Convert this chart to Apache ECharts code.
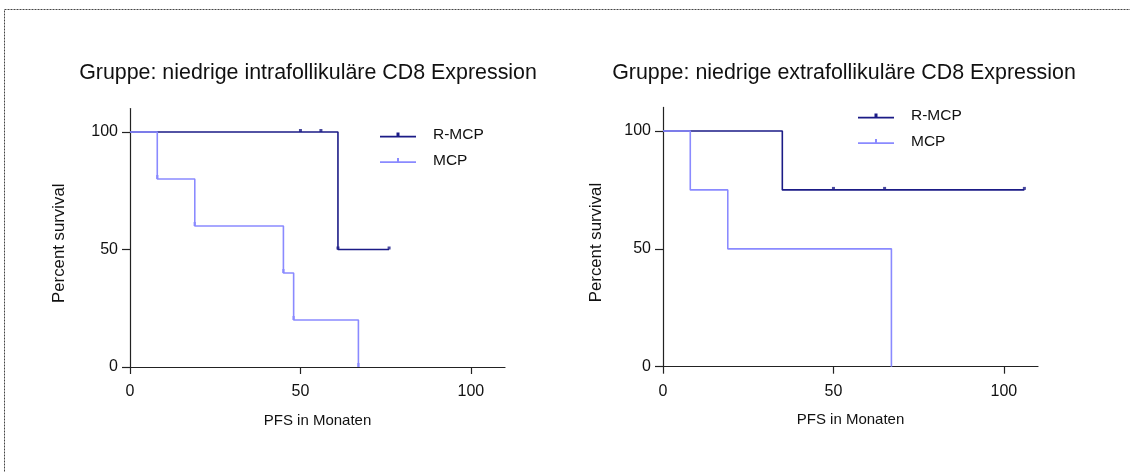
<!DOCTYPE html>
<html>
<head>
<meta charset="utf-8">
<script src="https://cdn.jsdelivr.net/npm/echarts@6/dist/echarts.min.js"></script>
<style>
  html, body { margin: 0; padding: 0; background: #fff; }
  #chart { width: 1130px; height: 472px; }
</style>
</head>
<body>
<div id="chart"></div>
<script>
// Kaplan-Meier step curves: [months, percent survival]
const titles = [
  'Gruppe: niedrige intrafollikuläre CD8 Expression',
  'Gruppe: niedrige extrafollikuläre CD8 Expression'
];
const seriesNames = ['R-MCP', 'MCP'];
const xTicks = [0, 50, 100];
const yTicks = [0, 50, 100];
const xAxisName = 'PFS in Monaten';
const yAxisName = 'Percent survival';

// left panel: intrafollicular
const intraRmcpCurve = [[0, 100], [61, 50], [76, 50]];
const intraMcpCurve = [[0, 100], [8, 80], [19, 60], [45, 40], [48, 20], [67, 0]];
const intraRmcpMarks = [[50, 100], [56, 100], [61, 50], [76, 50]];
const intraMcpMarks = [[8, 80], [19, 60], [45, 40], [48, 20], [67, 0]];

// right panel: extrafollicular
const extraRmcpCurve = [[0, 100], [35, 75], [106, 75]];
const extraMcpCurve = [[0, 100], [8, 75], [19, 50], [67, 50], [67, 0]];
const extraRmcpMarks = [[50, 75], [65, 75], [106, 75]];
const extraMcpMarks = [];

const FONT = '"Liberation Sans", Arial, sans-serif';
const DARK = '#1b1b86';
const LIGHT = '#8a8aff';
const AXIS = '#222';

const chart = echarts.init(document.getElementById('chart'), null, { renderer: 'canvas' });

const grids = [
  { left: 130, top: 108.5, width: 375, height: 258.5 },
  { left: 663, top: 107.4, width: 375, height: 259.3 }
];

function xAxisFor(i) {
  return {
    gridIndex: i, type: 'value', min: 0, max: 110,
    name: xAxisName, nameLocation: 'middle', nameGap: 46,
    nameTextStyle: { fontFamily: FONT, fontSize: 15, color: '#111' },
    axisLine: { show: true, lineStyle: { color: AXIS, width: 1.2 } },
    axisTick: { show: true, length: 7, customValues: xTicks, lineStyle: { color: AXIS, width: 1.2 } },
    axisLabel: { customValues: xTicks, margin: 17, fontFamily: FONT, fontSize: 16, color: '#111' },
    splitLine: { show: false }
  };
}
function yAxisFor(i, gap) {
  return {
    gridIndex: i, type: 'value', min: 0, max: 110,
    name: yAxisName, nameLocation: 'middle', nameGap: gap, nameRotate: 90,
    // extra trailing padding nudges the rotated title toward the 0–100 tick span
    nameTextStyle: { fontFamily: FONT, fontSize: 16.8, color: '#111', padding: [0, 11, 0, 0] },
    axisLine: { show: true, onZero: false, lineStyle: { color: AXIS, width: 1.2 } },
    axisTick: { show: true, length: 8, customValues: yTicks, lineStyle: { color: AXIS, width: 1.2 } },
    axisLabel: { customValues: yTicks, margin: 12, fontFamily: FONT, fontSize: 16, color: '#111' },
    splitLine: { show: false }
  };
}

function curve(name, data, color, i) {
  return {
    name, type: 'line', step: 'end', data,
    xAxisIndex: i, yAxisIndex: i,
    symbol: 'none', color,
    lineStyle: { color, width: 1.6 }, z: 3, animation: false
  };
}
function marks(name, data, color, i, size) {
  return {
    name, type: 'scatter', data,
    xAxisIndex: i, yAxisIndex: i,
    symbol: 'rect', symbolSize: size, symbolOffset: [0, -size[1] / 2],
    itemStyle: { color }, z: 4, animation: false, silent: true
  };
}

const iconDark = 'path://M16.5,0 h3 v3.2 h-3 z M0,3.2 h36 v1.8 h-36 z';
const iconLight = 'path://M17,0 h2 v3.2 h-2 z M0,3.2 h36 v1.8 h-36 z';

function legendFor(left, top) {
  return {
    left, top, orient: 'vertical', itemWidth: 36, itemHeight: 5, itemGap: 9.5,
    padding: 0, selectedMode: false,
    textStyle: { fontFamily: FONT, fontSize: 15.5, color: '#111', lineHeight: 16, padding: [0, 0, 0, 12] },
    data: [
      { name: seriesNames[0], icon: iconDark },
      { name: seriesNames[1], icon: iconLight }
    ]
  };
}

chart.setOption({
  backgroundColor: '#fff',
  animation: false,
  title: [
    { text: titles[0], left: 308, top: 63, textAlign: 'center', padding: 0,
      textStyle: { fontFamily: FONT, fontSize: 21.4, fontWeight: 'normal', color: '#111' } },
    { text: titles[1], left: 844, top: 63, textAlign: 'center', padding: 0,
      textStyle: { fontFamily: FONT, fontSize: 21.4, fontWeight: 'normal', color: '#111' } }
  ],
  legend: [legendFor(380, 127), legendFor(858, 108)],
  grid: grids,
  xAxis: [xAxisFor(0), xAxisFor(1)],
  yAxis: [yAxisFor(0, 62), yAxisFor(1, 58)],
  series: [
    curve(seriesNames[0], intraRmcpCurve, DARK, 0),
    curve(seriesNames[1], intraMcpCurve, LIGHT, 0),
    curve(seriesNames[0], extraRmcpCurve, DARK, 1),
    curve(seriesNames[1], extraMcpCurve, LIGHT, 1),
    marks(seriesNames[0], intraRmcpMarks, DARK, 0, [3, 3]),
    marks(seriesNames[1], intraMcpMarks, LIGHT, 0, [2.5, 4]),
    marks(seriesNames[0], extraRmcpMarks, DARK, 1, [3, 3]),
    marks(seriesNames[1], extraMcpMarks, LIGHT, 1, [2.5, 4])
  ],
  graphic: [{
    type: 'rect', silent: true,
    shape: { x: 4.5, y: 9.5, width: 1200, height: 600 },
    style: { fill: null, stroke: '#444', lineWidth: 1, lineDash: [2, 1] }
  }]
});
</script>
</body>
</html>
